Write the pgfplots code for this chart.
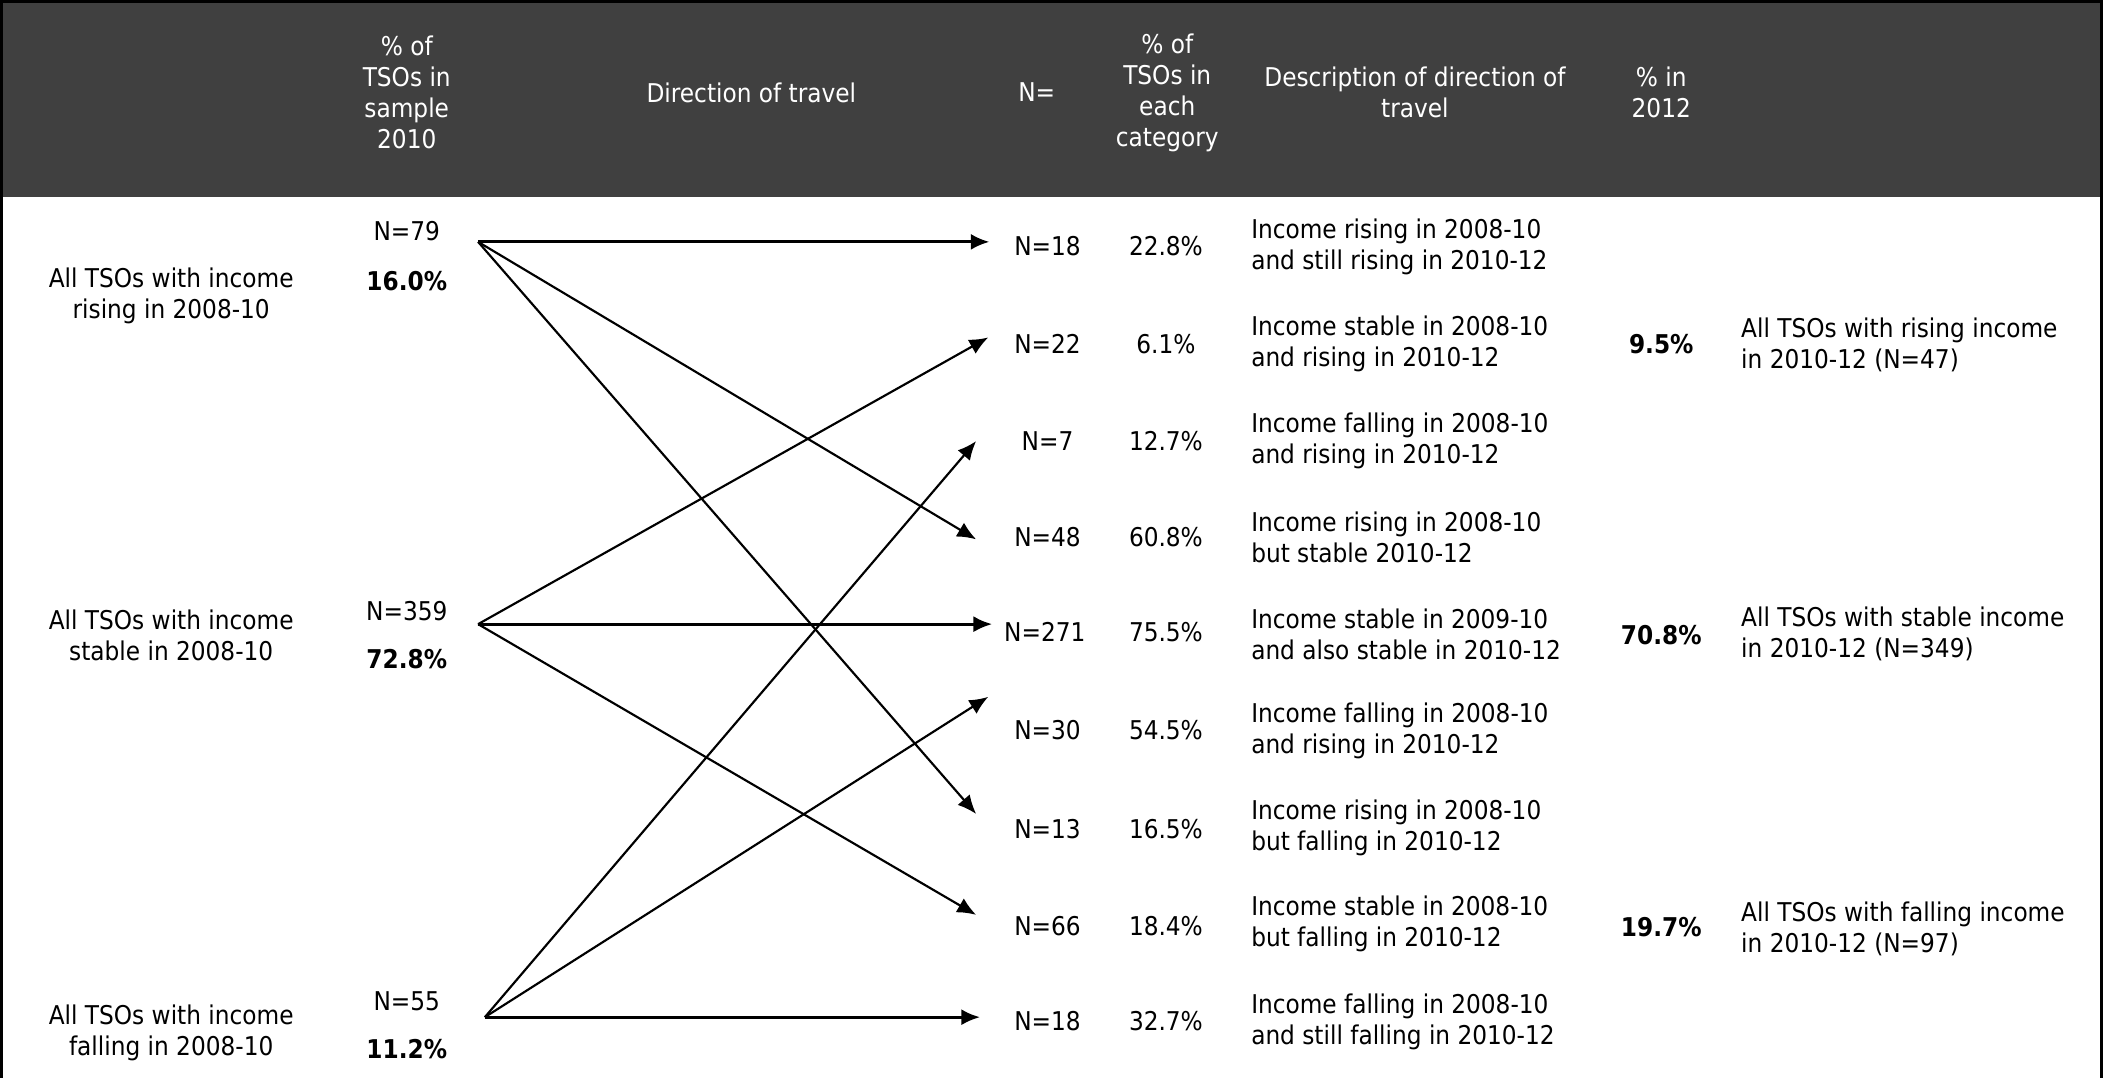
\documentclass[border=0pt]{standalone}
\usepackage{pgfplots}
\pgfplotsset{compat=1.18}
\usepackage{fontspec}
\setmainfont{DejaVu Sans Condensed}
\usetikzlibrary{arrows.meta}
\definecolor{headgray}{HTML}{404040}
\tikzset{
  t/.style={font=\fontsize{9.6}{11.5}\selectfont, inner sep=0pt},
  b/.style={font=\fontsize{9.6}{11.5}\selectfont\bfseries, inner sep=0pt},
  arr/.style={-{Latex[length=7pt,width=6pt]}, line width=0.8pt},
  harr/.style={-{Latex[length=7pt,width=6pt]}, line width=1.2pt},
}
\begin{document}
\begin{tikzpicture}
\begin{axis}[
    width=784pt, height=401pt, scale only axis,
    xmin=0, xmax=1568, ymin=0, ymax=802, y dir=reverse,
    axis lines=none, ticks=none, clip=false,
  ]
% header band
\addplot[fill=headgray, draw=none] coordinates {(3,3) (1563,3) (1563,148) (3,148)} -- cycle;
% frame
\addplot[black, line width=1.2pt] coordinates {(3,802) (3,2.5) (1563,2.5) (1563,802)};

% header texts
\node[t, white, align=center] at (304,70) {\% of\\TSOs in\\sample\\2010};
\node[t, white] at (560,70) {Direction of travel};
\node[t, white] at (772,70) {N=};
\node[t, white, align=center] at (869,70) {\% of\\TSOs in\\each\\category};
\node[t, white, align=center] at (1053,70) {Description of direction of\\travel};
\node[t, white, align=center] at (1236,70) {\% in\\2012};

% left groups (2010)
\node[t, align=center] at (129,221) {All TSOs with income\\rising in 2008-10};
\node[t, align=center] at (129,473) {All TSOs with income\\stable in 2008-10};
\node[t, align=center] at (129,769) {All TSOs with income\\falling in 2008-10};
\node[t] at (304,173) {N=79};
\node[b] at (304,210) {16.0\%};
\node[t] at (304,455) {N=359};
\node[b] at (304,491) {72.8\%};
\node[t] at (304,745) {N=55};
\node[b] at (304,781) {11.2\%};

% arrows: direction of travel
\addplot[harr] coordinates {(357,181) (737,181)};
\addplot[arr] coordinates {(357,181) (727,402)};
\addplot[arr] coordinates {(357,181) (727,606)};
\addplot[arr] coordinates {(357,465) (736,252)};
\addplot[harr] coordinates {(357,465) (739,465)};
\addplot[arr] coordinates {(357,465) (727,681)};
\addplot[arr] coordinates {(362,757) (727,329)};
\addplot[arr] coordinates {(362,757) (736,519)};
\addplot[harr] coordinates {(362,757) (730,757)};

% categories
\node[t] at (780,184) {N=18};  \node[t] at (868,184) {22.8\%};
\node[t, anchor=west, align=left] at (931,184.5) {Income rising in 2008-10\\and still rising in 2010-12};
\node[t] at (780,257) {N=22};  \node[t] at (868,257) {6.1\%};
\node[t, anchor=west, align=left] at (931,256.5) {Income stable in 2008-10\\and rising in 2010-12};
\node[t] at (780,329) {N=7};   \node[t] at (868,329) {12.7\%};
\node[t, anchor=west, align=left] at (931,328.5) {Income falling in 2008-10\\and rising in 2010-12};
\node[t] at (780,400) {N=48};  \node[t] at (868,400) {60.8\%};
\node[t, anchor=west, align=left] at (931,400.5) {Income rising in 2008-10\\but stable 2010-12};
\node[t] at (778,471) {N=271}; \node[t] at (868,471) {75.5\%};
\node[t, anchor=west, align=left] at (931,472.5) {Income stable in 2009-10\\and also stable in 2010-12};
\node[t] at (780,544) {N=30};  \node[t] at (868,544) {54.5\%};
\node[t, anchor=west, align=left] at (931,544.5) {Income falling in 2008-10\\and rising in 2010-12};
\node[t] at (780,617) {N=13};  \node[t] at (868,617) {16.5\%};
\node[t, anchor=west, align=left] at (931,616.5) {Income rising in 2008-10\\but falling in 2010-12};
\node[t] at (780,689) {N=66};  \node[t] at (868,689) {18.4\%};
\node[t, anchor=west, align=left] at (931,687.5) {Income stable in 2008-10\\but falling in 2010-12};
\node[t] at (780,760) {N=18};  \node[t] at (868,760) {32.7\%};
\node[t, anchor=west, align=left] at (931,760.5) {Income falling in 2008-10\\and still falling in 2010-12};

% 2012 totals
\node[b] at (1236,257) {9.5\%};
\node[t, anchor=west, align=left] at (1295,257.5) {All TSOs with rising income\\in 2010-12 (N=47)};
\node[b] at (1236,473) {70.8\%};
\node[t, anchor=west, align=left] at (1295,472.5) {All TSOs with stable income\\in 2010-12 (N=349)};
\node[b] at (1236,690) {19.7\%};
\node[t, anchor=west, align=left] at (1295,691.5) {All TSOs with falling income\\in 2010-12 (N=97)};
\end{axis}
\end{tikzpicture}
\end{document}
